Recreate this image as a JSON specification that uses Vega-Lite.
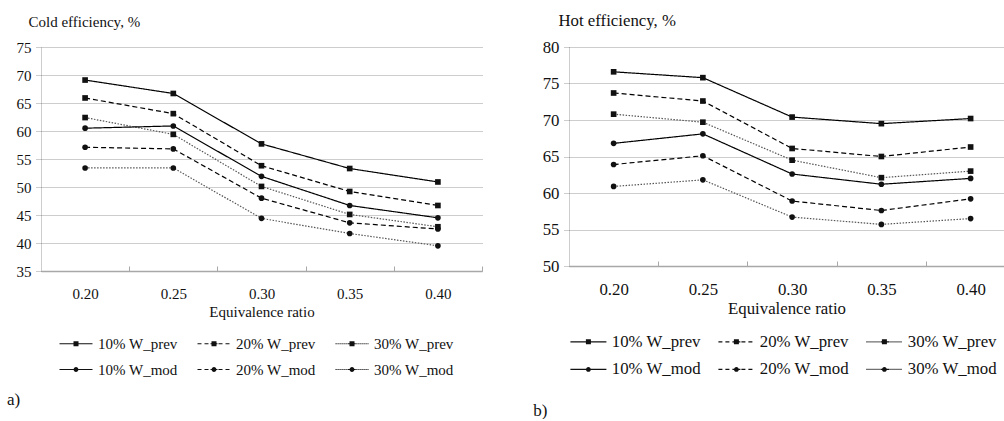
{
  "$schema": "https://vega.github.io/schema/vega-lite/v6.json",
  "background": "white",
  "padding": {"left": 7, "top": 12, "right": 0, "bottom": 0},
  "spacing": 50,
  "datasets": {
    "cold": [
      {"series": "10% W_prev", "ratio": 0.20, "value": 69.1},
      {"series": "10% W_prev", "ratio": 0.25, "value": 66.7},
      {"series": "10% W_prev", "ratio": 0.30, "value": 57.7},
      {"series": "10% W_prev", "ratio": 0.35, "value": 53.3},
      {"series": "10% W_prev", "ratio": 0.40, "value": 50.9},
      {"series": "20% W_prev", "ratio": 0.20, "value": 65.9},
      {"series": "20% W_prev", "ratio": 0.25, "value": 63.1},
      {"series": "20% W_prev", "ratio": 0.30, "value": 53.8},
      {"series": "20% W_prev", "ratio": 0.35, "value": 49.2},
      {"series": "20% W_prev", "ratio": 0.40, "value": 46.7},
      {"series": "30% W_prev", "ratio": 0.20, "value": 62.4},
      {"series": "30% W_prev", "ratio": 0.25, "value": 59.4},
      {"series": "30% W_prev", "ratio": 0.30, "value": 50.1},
      {"series": "30% W_prev", "ratio": 0.35, "value": 45.1},
      {"series": "30% W_prev", "ratio": 0.40, "value": 42.9},
      {"series": "10% W_mod", "ratio": 0.20, "value": 60.5},
      {"series": "10% W_mod", "ratio": 0.25, "value": 60.9},
      {"series": "10% W_mod", "ratio": 0.30, "value": 51.9},
      {"series": "10% W_mod", "ratio": 0.35, "value": 46.7},
      {"series": "10% W_mod", "ratio": 0.40, "value": 44.5},
      {"series": "20% W_mod", "ratio": 0.20, "value": 57.1},
      {"series": "20% W_mod", "ratio": 0.25, "value": 56.8},
      {"series": "20% W_mod", "ratio": 0.30, "value": 48.0},
      {"series": "20% W_mod", "ratio": 0.35, "value": 43.6},
      {"series": "20% W_mod", "ratio": 0.40, "value": 42.5},
      {"series": "30% W_mod", "ratio": 0.20, "value": 53.4},
      {"series": "30% W_mod", "ratio": 0.25, "value": 53.4},
      {"series": "30% W_mod", "ratio": 0.30, "value": 44.4},
      {"series": "30% W_mod", "ratio": 0.35, "value": 41.7},
      {"series": "30% W_mod", "ratio": 0.40, "value": 39.5}
    ],
    "hot": [
      {"series": "10% W_prev", "ratio": 0.20, "value": 76.6},
      {"series": "10% W_prev", "ratio": 0.25, "value": 75.8},
      {"series": "10% W_prev", "ratio": 0.30, "value": 70.4},
      {"series": "10% W_prev", "ratio": 0.35, "value": 69.5},
      {"series": "10% W_prev", "ratio": 0.40, "value": 70.2},
      {"series": "20% W_prev", "ratio": 0.20, "value": 73.7},
      {"series": "20% W_prev", "ratio": 0.25, "value": 72.6},
      {"series": "20% W_prev", "ratio": 0.30, "value": 66.1},
      {"series": "20% W_prev", "ratio": 0.35, "value": 65.0},
      {"series": "20% W_prev", "ratio": 0.40, "value": 66.3},
      {"series": "30% W_prev", "ratio": 0.20, "value": 70.8},
      {"series": "30% W_prev", "ratio": 0.25, "value": 69.7},
      {"series": "30% W_prev", "ratio": 0.30, "value": 64.5},
      {"series": "30% W_prev", "ratio": 0.35, "value": 62.1},
      {"series": "30% W_prev", "ratio": 0.40, "value": 63.0},
      {"series": "10% W_mod", "ratio": 0.20, "value": 66.8},
      {"series": "10% W_mod", "ratio": 0.25, "value": 68.1},
      {"series": "10% W_mod", "ratio": 0.30, "value": 62.6},
      {"series": "10% W_mod", "ratio": 0.35, "value": 61.2},
      {"series": "10% W_mod", "ratio": 0.40, "value": 62.0},
      {"series": "20% W_mod", "ratio": 0.20, "value": 63.9},
      {"series": "20% W_mod", "ratio": 0.25, "value": 65.1},
      {"series": "20% W_mod", "ratio": 0.30, "value": 58.9},
      {"series": "20% W_mod", "ratio": 0.35, "value": 57.6},
      {"series": "20% W_mod", "ratio": 0.40, "value": 59.2},
      {"series": "30% W_mod", "ratio": 0.20, "value": 60.9},
      {"series": "30% W_mod", "ratio": 0.25, "value": 61.8},
      {"series": "30% W_mod", "ratio": 0.30, "value": 56.7},
      {"series": "30% W_mod", "ratio": 0.35, "value": 55.7},
      {"series": "30% W_mod", "ratio": 0.40, "value": 56.5}
    ]
  },
  "hconcat": [
    {
      "width": 441,
      "height": 224,
      "data": {"name": "cold"},
      "title": {"text": "a)", "orient": "bottom", "anchor": "start", "frame": "bounds", "fontSize": 17, "offset": 14, "dx": -9},
      "encoding": {
        "x": {"field": "ratio", "type": "quantitative",
          "scale": {"domain": [0.175, 0.425], "nice": false, "zero": false},
          "axis": {"values": [0.2, 0.225, 0.25, 0.275, 0.3, 0.325, 0.35, 0.375, 0.4, 0.425],
            "labelExpr": "round(datum.value*40)%2==0 ? format(datum.value,'.2f') : ''",
            "tickOpacity": {"condition": {"test": "round(datum.value*40)%2==0", "value": 0}, "value": 1},
            "title": "Equivalence ratio", "labelFontSize": 15, "titleFontSize": 15}},
        "y": {"field": "value", "type": "quantitative",
          "scale": {"domain": [35, 75], "nice": false, "zero": false},
          "axis": {"values": [35, 40, 45, 50, 55, 60, 65, 70, 75], "title": "Cold efficiency, %",
            "titleX": -13, "titleY": -26, "labelFontSize": 15, "titleFontSize": 15}}
      },
      "layer": [
        {
          "mark": {"type": "line", "strokeWidth": 1.2},
          "encoding": {
            "strokeDash": {"field": "series", "type": "nominal", "legend": null,
              "scale": {"domain": ["10% W_prev", "20% W_prev", "30% W_prev", "10% W_mod", "20% W_mod", "30% W_mod"],
                "range": [[1, 0], [5, 3], [1.5, 1.5], [1, 0], [5, 3], [1.5, 1.5]]}},
            "color": {"field": "series", "type": "nominal", "legend": null,
              "scale": {"domain": ["10% W_prev", "20% W_prev", "30% W_prev", "10% W_mod", "20% W_mod", "30% W_mod"],
                "range": ["#000000", "#000000", "#555555", "#000000", "#000000", "#555555"]}}
          }
        },
        {
          "mark": {"type": "point", "filled": true, "opacity": 1, "color": "#111111", "size": 32},
          "encoding": {
            "shape": {"field": "series", "type": "nominal", "legend": null,
              "scale": {"domain": ["10% W_prev", "20% W_prev", "30% W_prev", "10% W_mod", "20% W_mod", "30% W_mod"],
                "range": ["square", "square", "square", "circle", "circle", "circle"]}}
          }
        },
        {
          "transform": [{"filter": "false"}],
          "mark": {"type": "point", "filled": true, "opacity": 1, "color": "#111111"},
          "encoding": {
            "shape": {"field": "series", "type": "nominal",
              "scale": {"domain": ["10% W_prev", "20% W_prev", "30% W_prev", "10% W_mod", "20% W_mod", "30% W_mod"],
                "range": [
                  "M-1,-0.3H15.5V0.3H-1ZM6,-1.25H8.5V1.25H6Z",
                  "M-1,-0.3H1V0.3H-1ZM2.5,-0.3H4.5V0.3H2.5ZM9.5,-0.3H11.5V0.3H9.5ZM13,-0.3H15V0.3H13ZM5.5,-0.3H9V0.3H5.5ZM6,-1.25H8.5V1.25H6Z",
                  "M-1,-0.3H-0.4V0.3H-1ZM0,-0.3H0.6V0.3H0ZM1,-0.3H1.6V0.3H1ZM2,-0.3H2.6V0.3H2ZM3,-0.3H3.6V0.3H3ZM4,-0.3H4.6V0.3H4ZM5,-0.3H5.6V0.3H5ZM9,-0.3H9.6V0.3H9ZM10,-0.3H10.6V0.3H10ZM11,-0.3H11.6V0.3H11ZM12,-0.3H12.6V0.3H12ZM13,-0.3H13.6V0.3H13ZM14,-0.3H14.6V0.3H14ZM15,-0.3H15.5V0.3H15ZM5.6,-0.3H8.9V0.3H5.6ZM6,-1.25H8.5V1.25H6Z",
                  "M-1,-0.3H15.5V0.3H-1ZM6.05,0A1.2,1.2 0 1,1 8.45,0A1.2,1.2 0 1,1 6.05,0Z",
                  "M-1,-0.3H1V0.3H-1ZM2.5,-0.3H4.5V0.3H2.5ZM9.5,-0.3H11.5V0.3H9.5ZM13,-0.3H15V0.3H13ZM5.5,-0.3H9V0.3H5.5ZM6.05,0A1.2,1.2 0 1,1 8.45,0A1.2,1.2 0 1,1 6.05,0Z",
                  "M-1,-0.3H-0.4V0.3H-1ZM0,-0.3H0.6V0.3H0ZM1,-0.3H1.6V0.3H1ZM2,-0.3H2.6V0.3H2ZM3,-0.3H3.6V0.3H3ZM4,-0.3H4.6V0.3H4ZM5,-0.3H5.6V0.3H5ZM9,-0.3H9.6V0.3H9ZM10,-0.3H10.6V0.3H10ZM11,-0.3H11.6V0.3H11ZM12,-0.3H12.6V0.3H12ZM13,-0.3H13.6V0.3H13ZM14,-0.3H14.6V0.3H14ZM15,-0.3H15.5V0.3H15ZM5.6,-0.3H8.9V0.3H5.6ZM6.05,0A1.2,1.2 0 1,1 8.45,0A1.2,1.2 0 1,1 6.05,0Z"
                ]},
              "legend": {"orient": "none", "legendX": 13, "legendY": 289, "columns": 3, "direction": "horizontal",
                "columnPadding": 14, "rowPadding": 10,
                "labelFontSize": 15, "labelOffset": 29, "title": null,
                "encode": {"symbols": {"update": {"fill": {"value": "#111111"}, "strokeWidth": {"value": 0},
                  "fillOpacity": {"value": 1}, "opacity": {"value": 1}}}}}}
          }
        }
      ],
      "resolve": {"scale": {"shape": "independent"}}
    },
    {
      "width": 435,
      "height": 219,
      "data": {"name": "hot"},
      "title": {"text": "b)", "orient": "bottom", "anchor": "start", "frame": "bounds", "fontSize": 17, "offset": 24, "dx": -9},
      "encoding": {
        "x": {"field": "ratio", "type": "quantitative",
          "scale": {"domain": [0.175, 0.4187], "nice": false, "zero": false},
          "axis": {"values": [0.2, 0.225, 0.25, 0.275, 0.3, 0.325, 0.35, 0.375, 0.4],
            "labelExpr": "round(datum.value*40)%2==0 ? format(datum.value,'.2f') : ''",
            "tickOpacity": {"condition": {"test": "round(datum.value*40)%2==0", "value": 0}, "value": 1},
            "title": "Equivalence ratio", "labelFontSize": 16.8, "titleFontSize": 16.8}},
        "y": {"field": "value", "type": "quantitative",
          "scale": {"domain": [50, 80], "nice": false, "zero": false},
          "axis": {"values": [50, 55, 60, 65, 70, 75, 80], "title": "Hot efficiency, %",
            "titleX": -11, "titleY": -27, "labelFontSize": 16.8, "titleFontSize": 16.8}}
      },
      "layer": [
        {
          "mark": {"type": "line", "strokeWidth": 1.2},
          "encoding": {
            "strokeDash": {"field": "series", "type": "nominal", "legend": null,
              "scale": {"domain": ["10% W_prev", "20% W_prev", "30% W_prev", "10% W_mod", "20% W_mod", "30% W_mod"],
                "range": [[1, 0], [5, 3], [1.5, 1.5], [1, 0], [5, 3], [1.5, 1.5]]}},
            "color": {"field": "series", "type": "nominal", "legend": null,
              "scale": {"domain": ["10% W_prev", "20% W_prev", "30% W_prev", "10% W_mod", "20% W_mod", "30% W_mod"],
                "range": ["#000000", "#000000", "#555555", "#000000", "#000000", "#555555"]}}
          }
        },
        {
          "mark": {"type": "point", "filled": true, "opacity": 1, "color": "#111111", "size": 32},
          "encoding": {
            "shape": {"field": "series", "type": "nominal", "legend": null,
              "scale": {"domain": ["10% W_prev", "20% W_prev", "30% W_prev", "10% W_mod", "20% W_mod", "30% W_mod"],
                "range": ["square", "square", "square", "circle", "circle", "circle"]}}
          }
        },
        {
          "transform": [{"filter": "false"}],
          "mark": {"type": "point", "filled": true, "opacity": 1, "color": "#111111"},
          "encoding": {
            "shape": {"field": "series", "type": "nominal",
              "scale": {"domain": ["10% W_prev", "20% W_prev", "30% W_prev", "10% W_mod", "20% W_mod", "30% W_mod"],
                "range": [
                  "M-1,-0.3H17V0.3H-1ZM6.75,-1.25H9.25V1.25H6.75Z",
                  "M-1,-0.3H1V0.3H-1ZM2.5,-0.3H4.5V0.3H2.5ZM10.5,-0.3H12.5V0.3H10.5ZM14,-0.3H16V0.3H14ZM6,-0.3H10V0.3H6ZM6.75,-1.25H9.25V1.25H6.75Z",
                  "M-1,-0.3H-0.4V0.3H-1ZM0,-0.3H0.6V0.3H0ZM1,-0.3H1.6V0.3H1ZM2,-0.3H2.6V0.3H2ZM3,-0.3H3.6V0.3H3ZM4,-0.3H4.6V0.3H4ZM5,-0.3H5.6V0.3H5ZM10,-0.3H10.6V0.3H10ZM11,-0.3H11.6V0.3H11ZM12,-0.3H12.6V0.3H12ZM13,-0.3H13.6V0.3H13ZM14,-0.3H14.6V0.3H14ZM15,-0.3H15.6V0.3H15ZM16,-0.3H16.6V0.3H16ZM6,-0.3H10V0.3H6ZM6.75,-1.25H9.25V1.25H6.75Z",
                  "M-1,-0.3H17V0.3H-1ZM6.8,0A1.2,1.2 0 1,1 9.2,0A1.2,1.2 0 1,1 6.8,0Z",
                  "M-1,-0.3H1V0.3H-1ZM2.5,-0.3H4.5V0.3H2.5ZM10.5,-0.3H12.5V0.3H10.5ZM14,-0.3H16V0.3H14ZM6,-0.3H10V0.3H6ZM6.8,0A1.2,1.2 0 1,1 9.2,0A1.2,1.2 0 1,1 6.8,0Z",
                  "M-1,-0.3H-0.4V0.3H-1ZM0,-0.3H0.6V0.3H0ZM1,-0.3H1.6V0.3H1ZM2,-0.3H2.6V0.3H2ZM3,-0.3H3.6V0.3H3ZM4,-0.3H4.6V0.3H4ZM5,-0.3H5.6V0.3H5ZM10,-0.3H10.6V0.3H10ZM11,-0.3H11.6V0.3H11ZM12,-0.3H12.6V0.3H12ZM13,-0.3H13.6V0.3H13ZM14,-0.3H14.6V0.3H14ZM15,-0.3H15.6V0.3H15ZM16,-0.3H16.6V0.3H16ZM6,-0.3H10V0.3H6ZM6.8,0A1.2,1.2 0 1,1 9.2,0A1.2,1.2 0 1,1 6.8,0Z"
                ]},
              "legend": {"orient": "none", "legendX": -5, "legendY": 286, "columns": 3, "direction": "horizontal",
                "columnPadding": 11, "rowPadding": 10,
                "labelFontSize": 16.8, "labelOffset": 31, "title": null,
                "encode": {"symbols": {"update": {"fill": {"value": "#111111"}, "strokeWidth": {"value": 0},
                  "fillOpacity": {"value": 1}, "opacity": {"value": 1}}}}}}
          }
        }
      ],
      "resolve": {"scale": {"shape": "independent"}}
    }
  ],
  "config": {
    "view": {"stroke": null},
    "font": "Liberation Serif",
    "title": {"font": "Liberation Serif", "fontWeight": "normal", "color": "#111111"},
    "axis": {"labelFont": "Liberation Serif", "titleFont": "Liberation Serif", "titleFontWeight": "normal",
      "labelColor": "#111111", "titleColor": "#111111"},
    "axisX": {"grid": false, "domainColor": "#a8a8a8", "domainWidth": 1.5, "tickColor": "#a8a8a8", "tickSize": -5,
      "tickWidth": 1, "labelPadding": 20, "titlePadding": 3, "labelFlush": false},
    "axisY": {"grid": true, "gridColor": "#9a9a9a", "gridDash": [1, 1], "gridWidth": 1,
      "domainColor": "#9a9a9a", "domainDash": [1, 1], "domainWidth": 1,
      "tickColor": "#9a9a9a", "tickDash": [1, 1], "tickSize": 5, "labelPadding": 5,
      "titleAngle": 0, "titleAlign": "left", "titleBaseline": "middle"},
    "legend": {"padding": 0, "labelFont": "Liberation Serif", "labelColor": "#111111", "symbolSize": 16,
      "symbolFillColor": "#111111", "symbolOpacity": 1, "labelLimit": 200}
  }
}
